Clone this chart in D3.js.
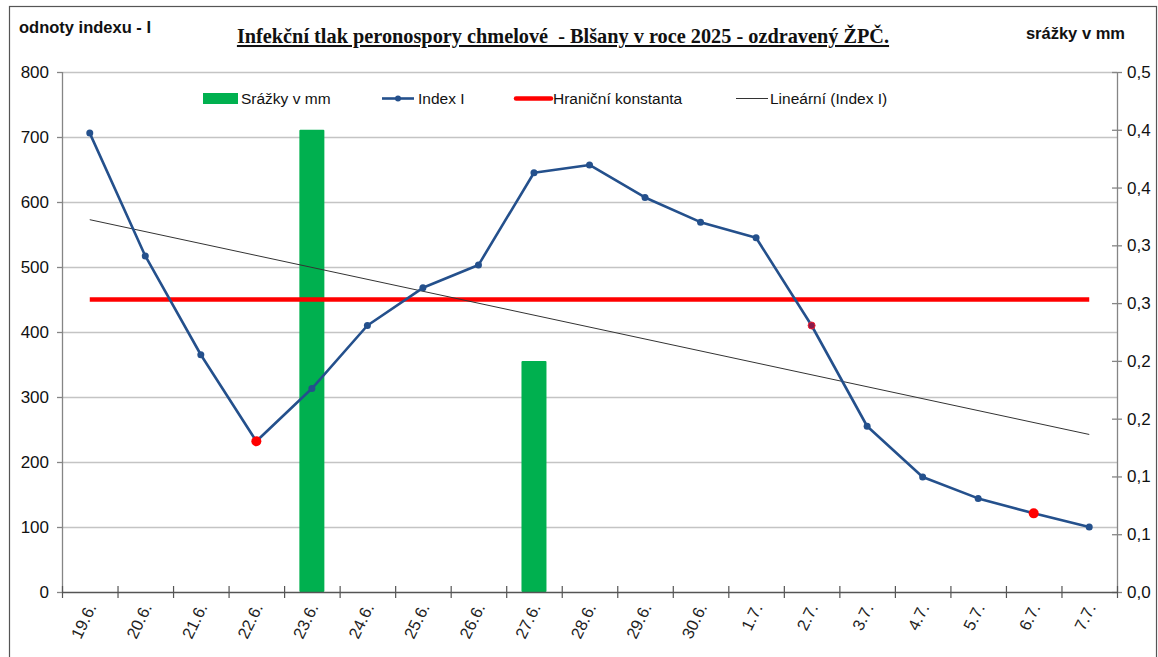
<!DOCTYPE html>
<html>
<head>
<meta charset="utf-8">
<script src="https://cdn.jsdelivr.net/npm/d3@7"></script>
<style>
  body { margin: 0; background: #fff; }
  svg { display: block; font-family: "Liberation Sans", Arial, sans-serif; }
</style>
</head>
<body>
<div id="chart"></div>
<script>
// data
var days = ["19.6.", "20.6.", "21.6.", "22.6.", "23.6.", "24.6.", "25.6.", "26.6.", "27.6.", "28.6.",
    "29.6.", "30.6.", "1.7.", "2.7.", "3.7.", "4.7.", "5.7.", "6.7.", "7.7."];
var indexI = [706, 517, 365, 232, 313, 410, 468, 503, 645, 657, 607, 569, 545, 410, 255, 177, 144, 121, 100];
var srazky = [0, 0, 0, 0, 0.4, 0, 0, 0, 0.2, 0, 0, 0, 0, 0, 0, 0, 0, 0, 0];
var hranicni = 450;
var redDays = ["22.6.", "6.7."];
var smallRedDays = ["2.7."];
var leftTicks = [0, 100, 200, 300, 400, 500, 600, 700, 800];
var rightTicks = [0, 0.05, 0.1, 0.15, 0.2, 0.25, 0.3, 0.35, 0.4, 0.45];
var rightTickLabels = ["0,0", "0,1", "0,1", "0,2", "0,2", "0,3", "0,3", "0,4", "0,4", "0,5"];

var W = 1158, H = 657;
var margin = { top: 72, right: 41, bottom: 65, left: 62 },
    width = W - margin.left - margin.right,
    height = H - margin.top - margin.bottom;

var svg = d3.select("#chart").append("svg")
    .attr("width", W)
    .attr("height", H);

// outer frame
svg.append("rect")
    .attr("x", 9.5).attr("y", 6.5)
    .attr("width", 1147).attr("height", 660)
    .attr("fill", "none")
    .attr("stroke", "#555")
    .attr("stroke-width", 1.2);

var g = svg.append("g")
    .attr("transform", "translate(" + margin.left + "," + margin.top + ")");

var x = d3.scaleBand().domain(days).range([0, width]);
var y = d3.scaleLinear().domain([0, 800]).range([height, 0]);
var y2 = d3.scaleLinear().domain([0, 0.45]).range([height, 0]);

// gridlines
g.append("g").selectAll("line")
    .data(leftTicks.slice(1))
    .enter().append("line")
    .attr("x1", 0).attr("x2", width)
    .attr("y1", function (d) { return y(d) + 0.5; })
    .attr("y2", function (d) { return y(d) + 0.5; })
    .attr("stroke", "#c4c4c4")
    .attr("stroke-width", 1.3);

// bars (right axis)
var bw = 25;
g.append("g").selectAll("rect")
    .data(days.map(function (d, i) { return { day: d, v: srazky[i] }; }).filter(function (d) { return d.v > 0; }))
    .enter().append("rect")
    .attr("x", function (d) { return x(d.day) + x.bandwidth() / 2 - bw / 2; })
    .attr("width", bw)
    .attr("y", function (d) { return y2(d.v); })
    .attr("height", function (d) { return height - y2(d.v); })
    .attr("fill", "#00b04f")
    .attr("rx", 1);

// axes
var leftAxis = d3.axisLeft(y).tickValues(leftTicks).tickSize(5).tickPadding(8);
var gl = g.append("g").call(leftAxis);
gl.select(".domain").attr("stroke", "#858585").attr("stroke-width", 1.3).attr("d", "M0.5," + height + "V0");
gl.selectAll(".tick line").attr("stroke", "#858585").attr("stroke-width", 1.3);
gl.selectAll("text").attr("font-size", 17).attr("fill", "#111")
    .attr("font-family", "Liberation Sans, Arial, sans-serif");

var rightAxis = d3.axisRight(y2).tickValues(rightTicks).tickSize(5).tickPadding(5)
    .tickFormat(function (d, i) { return rightTickLabels[i]; });
var gr = g.append("g").attr("transform", "translate(" + width + ",0)").call(rightAxis);
gr.select(".domain").attr("stroke", "#858585").attr("stroke-width", 1.3).attr("d", "M0.5," + height + "V0");
gr.selectAll(".tick line").attr("stroke", "#858585").attr("stroke-width", 1.3).attr("x1", -5);
gr.selectAll("text").attr("font-size", 17).attr("fill", "#111")
    .attr("font-family", "Liberation Sans, Arial, sans-serif");

// bottom axis with ticks between categories
var gb = g.append("g").attr("transform", "translate(0," + height + ")");
gb.append("line").attr("x1", 0).attr("x2", width).attr("y1", 0.5).attr("y2", 0.5)
    .attr("stroke", "#555").attr("stroke-width", 1.3);
gb.selectAll(".tk")
    .data(days.concat(["end"]))
    .enter().append("line")
    .attr("x1", function (d, i) { return i * x.step() + 0.5; })
    .attr("x2", function (d, i) { return i * x.step() + 0.5; })
    .attr("y1", -6).attr("y2", 6)
    .attr("stroke", "#555").attr("stroke-width", 1.2);
gb.selectAll(".lbl")
    .data(days)
    .enter().append("text")
    .attr("transform", function (d) {
        return "translate(" + (x(d) + x.bandwidth() / 2 + 7) + ",15) rotate(-64)";
    })
    .attr("text-anchor", "end")
    .attr("font-size", 16.5)
    .attr("fill", "#222")
    .text(function (d) { return d; });

// hranicni konstanta
g.append("line")
    .attr("x1", x(days[0]) + x.bandwidth() / 2)
    .attr("x2", x(days[days.length - 1]) + x.bandwidth() / 2)
    .attr("y1", y(hranicni)).attr("y2", y(hranicni))
    .attr("stroke", "#ff0000").attr("stroke-width", 4.5);

// linear trend (least squares over Index I)
var n = indexI.length;
var mx = d3.mean(d3.range(n)), my = d3.mean(indexI);
var slope = d3.sum(indexI, function (v, i) { return (i - mx) * (v - my); }) /
    d3.sum(d3.range(n), function (i) { return (i - mx) * (i - mx); });
var icpt = my - slope * mx;
g.append("line")
    .attr("x1", x(days[0]) + x.bandwidth() / 2)
    .attr("x2", x(days[n - 1]) + x.bandwidth() / 2)
    .attr("y1", y(icpt)).attr("y2", y(icpt + slope * (n - 1)))
    .attr("stroke", "#333").attr("stroke-width", 1);

// index I line
var line = d3.line()
    .x(function (d, i) { return x(days[i]) + x.bandwidth() / 2; })
    .y(function (d) { return y(d); });
g.append("path")
    .datum(indexI)
    .attr("d", line)
    .attr("fill", "none")
    .attr("stroke", "#24508c")
    .attr("stroke-width", 2.6)
    .attr("stroke-linejoin", "round");

g.append("g").selectAll("circle")
    .data(indexI)
    .enter().append("circle")
    .attr("cx", function (d, i) { return x(days[i]) + x.bandwidth() / 2; })
    .attr("cy", function (d) { return y(d); })
    .attr("r", function (d, i) {
        if (redDays.indexOf(days[i]) >= 0) return 5;
        return 3.5;
    })
    .attr("fill", function (d, i) {
        if (redDays.indexOf(days[i]) >= 0) return "#ff0000";
        if (smallRedDays.indexOf(days[i]) >= 0) return "#8a1a4a";
        return "#24508c";
    })
    .attr("stroke", function (d, i) {
        return smallRedDays.indexOf(days[i]) >= 0 ? "#ee2030" : "none";
    })
    .attr("stroke-width", 1);

// legend
var lg = svg.append("g").attr("font-size", 15.5).attr("fill", "#111");
lg.append("rect").attr("x", 203).attr("y", 93).attr("width", 35).attr("height", 11).attr("fill", "#00b04f");
lg.append("text").attr("x", 241).attr("y", 104).text("Srážky v mm");
lg.append("line").attr("x1", 382).attr("x2", 414).attr("y1", 98.5).attr("y2", 98.5)
    .attr("stroke", "#24508c").attr("stroke-width", 2.6);
lg.append("circle").attr("cx", 398).attr("cy", 98.5).attr("r", 3).attr("fill", "#24508c");
lg.append("text").attr("x", 418).attr("y", 104).text("Index I");
lg.append("line").attr("x1", 516).attr("x2", 551).attr("y1", 98.5).attr("y2", 98.5)
    .attr("stroke", "#ff0000").attr("stroke-width", 4.5).attr("stroke-linecap", "round");
lg.append("text").attr("x", 553).attr("y", 104).text("Hraniční konstanta");
lg.append("line").attr("x1", 736).attr("x2", 768).attr("y1", 98.5).attr("y2", 98.5)
    .attr("stroke", "#333").attr("stroke-width", 1);
lg.append("text").attr("x", 770).attr("y", 104).text("Lineární (Index I)");

// titles
svg.append("text")
    .attr("x", 19).attr("y", 33)
    .attr("font-size", 16.5).attr("font-weight", "bold").attr("fill", "#111")
    .text("odnoty indexu - I");
svg.append("text")
    .attr("x", 1125).attr("y", 39)
    .attr("text-anchor", "end")
    .attr("font-size", 16.5).attr("font-weight", "bold").attr("fill", "#111")
    .text("srážky v mm");
svg.append("text")
    .attr("x", 563).attr("y", 43)
    .attr("text-anchor", "middle")
    .attr("font-family", "Liberation Serif, Times New Roman, serif")
    .attr("font-size", 20.3).attr("font-weight", "bold").attr("fill", "#111")
    .attr("text-decoration", "underline")
    .attr("xml:space", "preserve")
    .style("white-space", "pre")
    .text("Infekční tlak peronospory chmelové  - Blšany v roce 2025 - ozdravený ŽPČ.");
</script>
</body>
</html>
